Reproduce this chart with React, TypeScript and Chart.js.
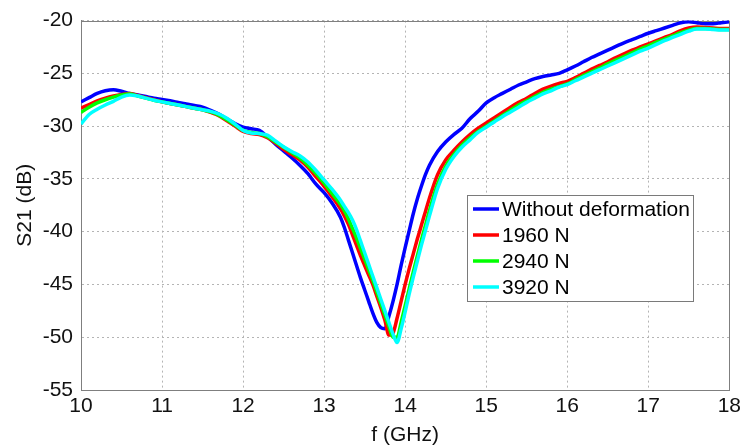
import { useEffect, useRef } from 'react';
import { Chart, registerables } from 'chart.js';

Chart.register(...registerables);

const FONT = '"Liberation Sans", Arial, Helvetica, sans-serif';

const freqGHz = [
  10.0, 10.1, 10.2, 10.3, 10.4, 10.5, 10.6, 10.7, 10.8, 10.9,
  11.0, 11.1, 11.2, 11.3, 11.4, 11.5, 11.6, 11.7, 11.8, 11.9,
  12.0, 12.1, 12.2, 12.3, 12.4, 12.5, 12.6, 12.7, 12.8, 12.9,
  13.0, 13.1, 13.2,
  13.25, 13.3, 13.35, 13.4, 13.45, 13.5, 13.55, 13.6, 13.65, 13.7,
  13.75, 13.8, 13.85, 13.9, 13.95, 14.0, 14.05, 14.1, 14.15, 14.2,
  14.25, 14.3,
  14.4, 14.5, 14.6, 14.7, 14.8, 14.9, 15.0, 15.1, 15.2, 15.3,
  15.4, 15.5, 15.6, 15.7, 15.8, 15.9, 16.0, 16.1, 16.2, 16.3,
  16.4, 16.5, 16.6, 16.7, 16.8, 16.9, 17.0, 17.1, 17.2, 17.3,
  17.4, 17.5, 17.6, 17.7, 17.8, 17.9, 18.0,
];

const withoutDeformation = [
  -27.7, -27.3, -26.9, -26.65, -26.55, -26.7, -26.9, -27.05, -27.2, -27.35,
  -27.47, -27.6, -27.75, -27.9, -28.05, -28.2, -28.5, -28.85, -29.3, -29.75,
  -30.1, -30.25, -30.4, -31.0, -31.7, -32.35, -33.0, -33.7, -34.5, -35.5,
  -36.3, -37.3, -38.6,
  -39.6, -40.8, -42.0, -43.2, -44.4, -45.5, -46.6, -47.7, -48.6, -49.1,
  -49.2, -48.0, -46.6, -45.0, -43.2, -41.5, -39.9, -38.3, -36.9, -35.7,
  -34.6, -33.7,
  -32.4, -31.5, -30.8, -30.2, -29.3, -28.6, -27.8, -27.3, -26.9, -26.5,
  -26.1, -25.8, -25.5, -25.3, -25.15, -25.0, -24.66, -24.3, -23.9, -23.5,
  -23.15, -22.8, -22.45, -22.1, -21.8, -21.5, -21.2, -20.95, -20.7, -20.45,
  -20.2, -20.1, -20.2, -20.3, -20.3, -20.2, -20.1,
];

const load1960N = [
  -28.3, -27.95, -27.6, -27.35, -27.15, -27.0, -26.9, -27.1, -27.3, -27.5,
  -27.7, -27.85, -28.0, -28.15, -28.3, -28.45, -28.7, -29.0, -29.5, -30.0,
  -30.5, -30.7, -30.8, -31.1, -31.6, -32.2, -32.7, -33.2, -33.9, -34.8,
  -35.7, -36.7, -37.8,
  -38.5, -39.3, -40.3, -41.3, -42.3, -43.2, -44.1, -45.0, -46.1, -47.2,
  -48.4, -49.8, -49.6, -48.2, -46.6, -45.0, -43.5, -42.1, -40.7, -39.4,
  -38.1, -36.8,
  -34.6, -33.2, -32.3, -31.5, -30.8, -30.2, -29.7, -29.2, -28.7, -28.2,
  -27.75, -27.35, -26.9, -26.5, -26.2, -25.95, -25.75, -25.4, -25.0, -24.6,
  -24.25, -23.9, -23.5, -23.15, -22.8, -22.5, -22.2, -21.9, -21.6, -21.3,
  -20.95, -20.7, -20.6, -20.65, -20.7, -20.75, -20.75,
];

const load2940N = [
  -28.7, -28.2, -27.8, -27.5, -27.25, -27.05, -26.95, -27.15, -27.35, -27.55,
  -27.7, -27.85, -28.0, -28.15, -28.3, -28.45, -28.65, -28.95, -29.4, -29.9,
  -30.4, -30.6, -30.7, -31.0, -31.5, -32.0, -32.5, -33.0, -33.7, -34.5,
  -35.4, -36.4, -37.4,
  -38.0, -38.8, -39.7, -40.6, -41.6, -42.6, -43.6, -44.6, -45.7, -46.8,
  -47.9, -49.0, -50.0, -50.0, -48.6, -47.0, -45.4, -43.8, -42.3, -40.8,
  -39.4, -38.0,
  -35.5, -33.8, -32.7, -31.8, -31.1, -30.5, -30.0, -29.5, -29.0, -28.5,
  -28.0, -27.6, -27.2, -26.8, -26.5, -26.25, -26.0, -25.6, -25.2, -24.85,
  -24.5, -24.1, -23.75, -23.4, -23.05, -22.7, -22.4, -22.05, -21.75, -21.45,
  -21.15, -20.9, -20.75, -20.75, -20.8, -20.85, -20.85,
];

const load3920N = [
  -29.8, -28.9, -28.4, -28.0, -27.65, -27.25, -27.05, -27.15, -27.35, -27.55,
  -27.7, -27.85, -28.0, -28.15, -28.3, -28.45, -28.6, -28.85, -29.25, -29.8,
  -30.4, -30.65, -30.7, -30.85, -31.4, -31.95, -32.4, -32.8, -33.4, -34.2,
  -35.1, -36.0, -37.0,
  -37.6, -38.2, -38.9, -39.8, -40.9, -42.0, -43.1, -44.2, -45.3, -46.4,
  -47.5, -48.6, -49.7, -50.5, -49.2, -47.6, -45.9, -44.3, -42.8, -41.3,
  -39.9, -38.5,
  -35.9, -34.1, -32.9, -32.0, -31.3, -30.6, -30.1, -29.6, -29.1, -28.65,
  -28.2, -27.75, -27.35, -26.95, -26.65, -26.3, -26.07, -25.7, -25.35, -25.0,
  -24.65, -24.3, -23.95, -23.6, -23.25, -22.9, -22.6, -22.25, -21.9, -21.6,
  -21.3, -21.0, -20.8, -20.8, -20.85, -20.9, -20.9,
];

const seriesLabels = ['Without deformation', '1960 N', '2940 N', '3920 N'];
const seriesValues = [withoutDeformation, load1960N, load2940N, load3920N];
const seriesColors = ['#0000ff', '#ff0000', '#00ff00', '#00ffff'];

const xTitle = 'f (GHz)';
const yTitle = 'S21 (dB)';

const framePlugin = {
  id: 'matlabFrame',
  beforeDatasetsDraw(chart: any) {
    const { ctx, chartArea } = chart;
    ctx.save();
    ctx.strokeStyle = '#7f7f7f';
    ctx.lineWidth = 1;
    ctx.strokeRect(
      Math.round(chartArea.left) + 0.5,
      Math.round(chartArea.top) + 0.5,
      Math.round(chartArea.right - chartArea.left),
      Math.round(chartArea.bottom - chartArea.top)
    );
    ctx.restore();
  },
};

const legendBoxPlugin = {
  id: 'legendBox',
  afterDatasetsDraw(chart: any) {
    const { ctx, chartArea } = chart;
    const x = Math.round(chartArea.left + 386);
    const y = Math.round(chartArea.top + 174);
    const w = 226;
    const h = 106;
    ctx.save();
    ctx.fillStyle = '#ffffff';
    ctx.fillRect(x, y, w, h);
    ctx.strokeStyle = '#7a7a7a';
    ctx.lineWidth = 1;
    ctx.strokeRect(x + 0.5, y + 0.5, w, h);
    chart.data.datasets.forEach((ds: any, i: number) => {
      const cy = y + 14 + i * 26;
      ctx.strokeStyle = ds.borderColor;
      ctx.lineWidth = 3.5;
      ctx.beginPath();
      ctx.moveTo(x + 6, cy);
      ctx.lineTo(x + 32, cy);
      ctx.stroke();
      ctx.fillStyle = '#000000';
      ctx.font = `21px ${FONT}`;
      ctx.textBaseline = 'middle';
      ctx.textAlign = 'left';
      ctx.fillText(ds.label, x + 35, cy + 1);
    });
    ctx.restore();
  },
};

export default function App() {
  const canvasRef = useRef<HTMLCanvasElement | null>(null);

  useEffect(() => {
    const canvas = canvasRef.current;
    if (!canvas) return;
    const datasets = seriesLabels.map((label, s) => ({
      label,
      data: freqGHz.map((f, i) => ({ x: f, y: seriesValues[s][i] })),
      borderColor: seriesColors[s],
      backgroundColor: seriesColors[s],
      borderWidth: 3.5,
      pointRadius: 0,
      cubicInterpolationMode: 'monotone' as const,
      fill: false,
      order: seriesLabels.length - 1 - s,
    }));

    const tickFont = { family: FONT, size: 21 };
    const chart = new Chart(canvas, {
      type: 'line',
      data: { datasets },
      options: {
        responsive: false,
        devicePixelRatio: 1,
        animation: false,
        layout: { padding: { top: 17, right: 13, left: 0, bottom: 0 } },
        plugins: {
          legend: { display: false },
          tooltip: { enabled: false },
        },
        scales: {
          x: {
            type: 'linear',
            min: 10,
            max: 18,
            ticks: { stepSize: 1, font: tickFont, color: '#111', padding: 4, maxRotation: 0 },
            grid: { color: '#b4b4b4', lineWidth: 1, drawTicks: false },
            border: { display: true, color: '#7f7f7f', dash: [2, 3] },
            title: {
              display: true,
              text: xTitle,
              font: { family: FONT, size: 21 },
              color: '#111',
              padding: { top: 0, bottom: 0 },
            },
            afterFit: (scale: any) => {
              scale.height = 58;
            },
          },
          y: {
            type: 'linear',
            min: -55,
            max: -20,
            ticks: { stepSize: 5, font: tickFont, color: '#111', padding: 8 },
            grid: { color: '#b4b4b4', lineWidth: 1, drawTicks: false },
            border: { display: true, color: '#7f7f7f', dash: [2, 3] },
            title: {
              display: true,
              text: yTitle,
              font: { family: FONT, size: 21 },
              color: '#111',
              padding: { top: 13, bottom: 0 },
            },
            afterFit: (scale: any) => {
              scale.width = 81;
            },
          },
        },
      },
      plugins: [framePlugin, legendBoxPlugin],
    });
    return () => chart.destroy();
  }, []);

  return (
    <div style={{ position: 'fixed', left: 0, top: 0, width: 745, height: 448, background: '#fff' }}>
      <canvas ref={canvasRef} width={745} height={448} style={{ display: 'block', width: 745, height: 448 }} />
    </div>
  );
}
